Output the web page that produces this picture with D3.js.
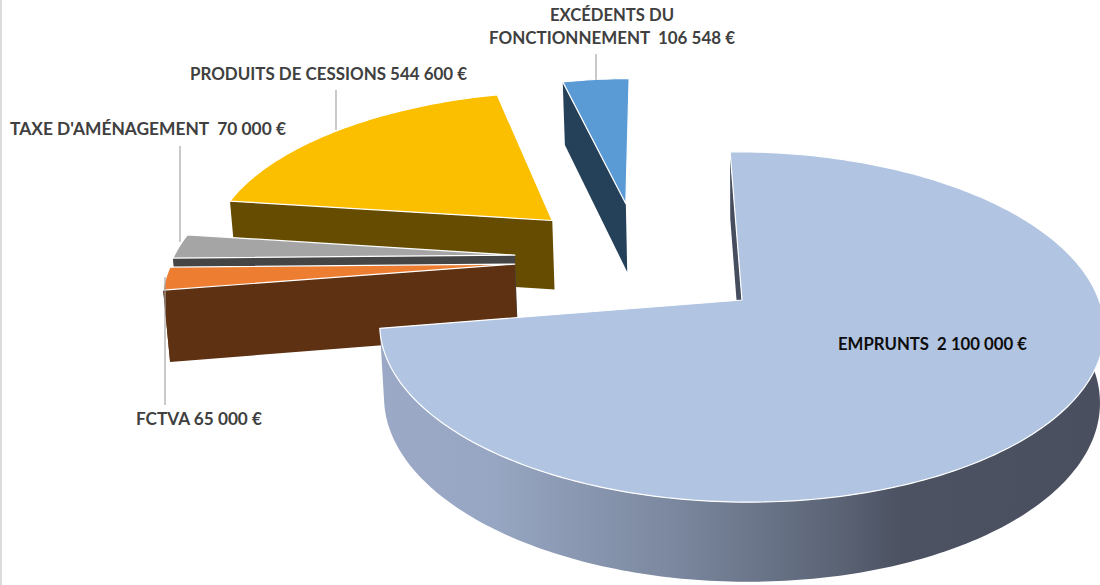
<!DOCTYPE html>
<html>
<head>
<meta charset="utf-8">
<script src="https://cdn.jsdelivr.net/npm/d3@7"></script>
<style>
  html, body { margin: 0; padding: 0; background: #fff; overflow: hidden; }
  text { font-family: Lato, "Open Sans", sans-serif; font-weight: 700; white-space: pre; }
</style>
</head>
<body>
<svg id="chart" width="1100" height="585"></svg>
<script>
// Values, in pie order (clockwise from the top)
const categories = ["EMPRUNTS", "FCTVA", "TAXE D'AMÉNAGEMENT", "PRODUITS DE CESSIONS", "EXCÉDENTS DU FONCTIONNEMENT"];
const values = [2100000, 65000, 70000, 544600, 106548];
const labelLines = [
    ["EMPRUNTS  2 100 000 €"],
    ["FCTVA 65 000 €"],
    ["TAXE D'AMÉNAGEMENT  70 000 €"],
    ["PRODUITS DE CESSIONS 544 600 €"],
    ["EXCÉDENTS DU", "FONCTIONNEMENT  106 548 €"]
];
const topColors = ["#b1c4e2", "#ed7d31", "#a5a5a5", "#fcbf00", "#5b9bd5"];
const wallColors = ["#454d5e", "#5e3113", "#454545", "#664c00", "#254059"];

// Camera: the pie lies on a plane seen in perspective
const cx = 742, cy = 300;      // screen position of the pie centre
const radiusX = 358, radiusY = 171;
const perspective = 0.154;     // how fast things shrink with distance
const shear = 3;               // slight roll of the plane
const depth = 72;              // wall height where w = 1
const converge = 0.012;        // walls lean towards the centre

// Explosion of each slice on the plane, and its radius
const explode = [[0, 0], [-0.655, -0.205], [-0.66, -0.2616], [-0.57, -0.49], [-0.355, -0.61]];
const radius = [1, 0.985, 0.985, 1, 1];

// Leader lines and label anchors
const leaders = [null, [165, 277, 405], [180, 146, 242], [336, 90, 130], [596, 54, 80]];
const labelPos = [[838, 350, 0], [136, 425, 0], [10, 135, 0], [190, 80, 0], [612, 21, 23]];
const labelWidth = [[189], [126], [276], [277], [124, 246]];
const labelAnchor = ["start", "start", "start", "start", "middle"];
const labelFill = ["#0d0d0d", "#404040", "#404040", "#404040", "#404040"];

const svg = d3.select("#chart");

// Left frame edge of the original picture
svg.append("rect").attr("width", 2).attr("height", 585).attr("fill", "#dcdcdc");

const defs = svg.append("defs");
const wallGradient = defs.append("linearGradient")
    .attr("id", "wallGradient")
    .attr("gradientUnits", "userSpaceOnUse")
    .attr("x1", 385).attr("x2", 1100).attr("y1", 0).attr("y2", 0);
[[0, "#9ba9c6"], [0.15, "#97a6c2"], [0.4, "#7b889f"], [0.62, "#5d6678"], [0.72, "#4c5262"], [1, "#4a4f5f"]]
    .forEach(s => wallGradient.append("stop").attr("offset", s[0]).attr("stop-color", s[1]));

const pie = d3.pie().sort(null)
    .startAngle(-2.2 * Math.PI / 180)
    .endAngle(357.8 * Math.PI / 180);
const arcs = pie(values);

// Plane position -> screen, on the top face or the bottom face
function project(i, angle, r, bottom) {
    const X = explode[i][0] + r * radius[i] * Math.sin(angle);
    const Y = explode[i][1] - r * radius[i] * Math.cos(angle);
    const w = 1 - perspective * Y;
    const x = cx + radiusX * X / w;
    const y = cy + (radiusY * Y + shear * X) / w;
    if (!bottom) return [x, y];
    return [x + (cx - x) * converge, y + depth * Math.pow(w, -0.6)];
}

const line = d3.line().curve(d3.curveLinear);

function sampleAngles(d) {
    const n = Math.max(8, Math.ceil((d.endAngle - d.startAngle) * 60));
    return d3.range(n + 1).map(k => d.startAngle + (d.endAngle - d.startAngle) * k / n);
}

function drawSlice(i) {
    const d = arcs[i];
    const angles = sampleAngles(d);
    const top = angles.map(a => project(i, a, 1, false));
    const apex = project(i, 0, 0, false);
    const apexLow = project(i, 0, 0, true);
    const g = svg.append("g").attr("class", "slice").attr("data-name", categories[i]);

    // Radial walls, only those turned towards the viewer
    [[d.startAngle, -Math.PI / 2], [d.endAngle, Math.PI / 2]].forEach(w => {
        if (Math.cos(w[0] + w[1]) >= 0) return;
        g.append("path")
            .attr("d", line([apex, project(i, w[0], 1, false), project(i, w[0], 1, true), apexLow]) + "Z")
            .attr("fill", wallColors[i]);
    });

    // Outer wall, the near part of the rim only
    const near = angles.filter(a => Math.cos(a) < 0.05);
    if (near.length > 1) {
        const rimTop = near.map(a => project(i, a, 1, false));
        const rimLow = near.map(a => project(i, a, 1, true)).reverse();
        g.append("path")
            .attr("d", line(rimTop.concat(rimLow)) + "Z")
            .attr("fill", i === 0 ? "url(#wallGradient)" : wallColors[i]);
    }

    // The top face
    g.append("path")
        .attr("d", line([apex].concat(top)) + "Z")
        .attr("fill", topColors[i])
        .attr("stroke", "#fff").attr("stroke-width", 1.2)
        .attr("stroke-linejoin", "round");
}

// Back to front
[4, 3, 2, 1, 0].forEach(drawSlice);

// Leader lines
leaders.forEach(l => {
    if (!l) return;
    svg.append("line")
        .attr("x1", l[0]).attr("x2", l[0])
        .attr("y1", l[1]).attr("y2", l[2])
        .attr("stroke", "#a6a6a6").attr("stroke-width", 1.2);
});

// Labels
labelLines.forEach((lines, i) => {
    lines.forEach((t, k) => {
        svg.append("text")
            .attr("x", labelPos[i][0])
            .attr("y", labelPos[i][1] + k * labelPos[i][2])
            .attr("text-anchor", labelAnchor[i])
            .attr("font-size", 16.5)
            .attr("textLength", labelWidth[i][k])
            .attr("lengthAdjust", "spacingAndGlyphs")
            .attr("fill", labelFill[i])
            .text(t);
    });
});
</script>
</body>
</html>
